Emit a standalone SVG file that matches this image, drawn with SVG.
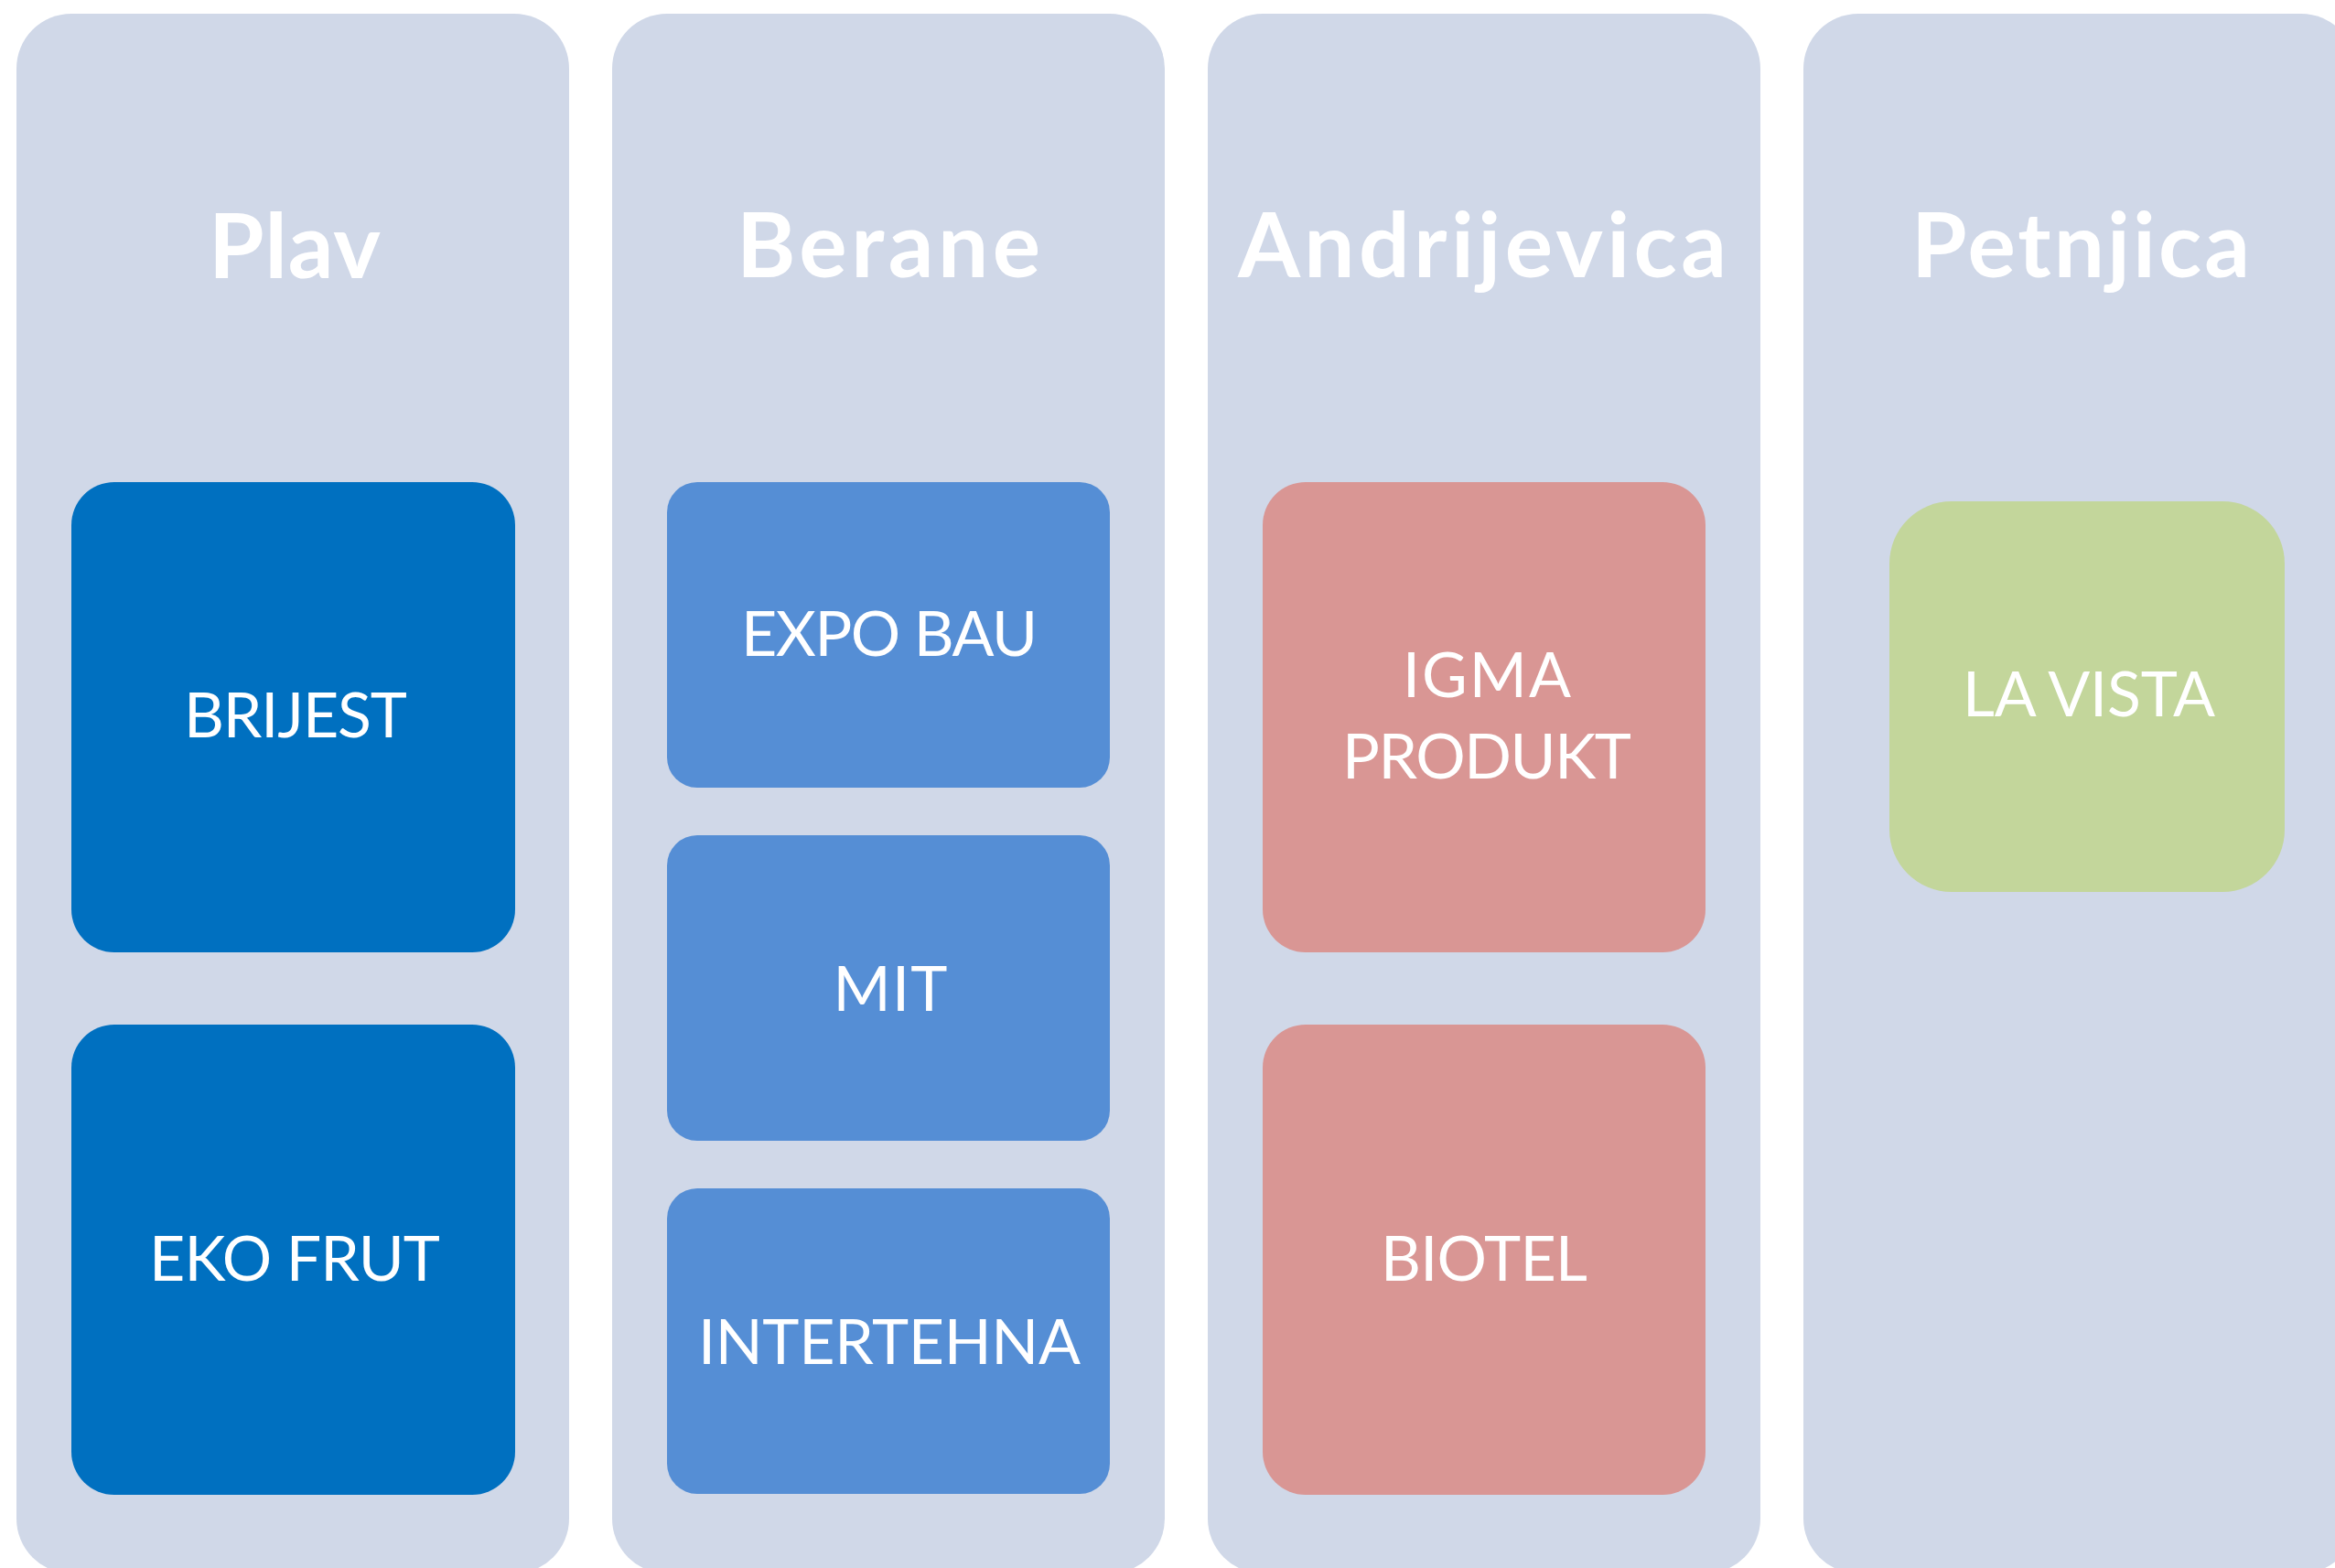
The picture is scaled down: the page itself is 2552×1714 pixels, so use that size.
<svg xmlns="http://www.w3.org/2000/svg" width="2552" height="1714" viewBox="0 0 2552 1714">
<style>
.col{fill:#D0D8E8}
.hdr{font-family:Lato,"Liberation Sans",sans-serif;font-weight:700;font-size:98px;fill:#fff;text-anchor:middle}
.lbl{font-family:Lato,"Liberation Sans",sans-serif;font-weight:400;font-size:68px;fill:#fff;text-anchor:middle}
.c1{fill:#0070C0}
.c2{fill:#558ED5}
.c3{fill:#D99694}
.c4{fill:#C3D69B}
</style>
<rect width="2552" height="1714" fill="#fff"/>
<g id="col-plav">
<rect class="col" x="18" y="15" width="604" height="1705" rx="60"/>
<text class="hdr" x="322" y="304" textLength="188" lengthAdjust="spacing">Plav</text>
</g>
<g id="col-berane">
<rect class="col" x="669" y="15" width="604" height="1705" rx="60"/>
<text class="hdr" x="971" y="303" textLength="332" lengthAdjust="spacing">Berane</text>
</g>
<g id="col-andrijevica">
<rect class="col" x="1320" y="15" width="604" height="1705" rx="60"/>
<text class="hdr" x="1620" y="303" textLength="534" lengthAdjust="spacing">Andrijevica</text>
</g>
<g id="col-petnjica">
<rect class="col" x="1971" y="15" width="604" height="1705" rx="60"/>
<text class="hdr" x="2274" y="303" textLength="370" lengthAdjust="spacing">Petnjica</text>
</g>
<g id="brijest">
<rect class="c1" x="78" y="527" width="485" height="514" rx="47"/>
<text class="lbl" x="323" y="806" textLength="244" lengthAdjust="spacing">BRIJEST</text>
</g>
<g id="eko-frut">
<rect class="c1" x="78" y="1120" width="485" height="514" rx="47"/>
<text class="lbl" x="322" y="1400" textLength="318" lengthAdjust="spacing">EKO FRUT</text>
</g>
<g id="expo-bau">
<rect class="c2" x="729" y="527" width="484" height="334" rx="33"/>
<text class="lbl" x="972" y="717" textLength="324" lengthAdjust="spacing">EXPO BAU</text>
</g>
<g id="mit">
<rect class="c2" x="729" y="913" width="484" height="334" rx="33"/>
<text class="lbl" x="973" y="1105" textLength="125" lengthAdjust="spacing">MIT</text>
</g>
<g id="intertehna">
<rect class="c2" x="729" y="1299" width="484" height="334" rx="33"/>
<text class="lbl" x="972" y="1491" textLength="418" lengthAdjust="spacing">INTERTEHNA</text>
</g>
<g id="igma-produkt">
<rect class="c3" x="1380" y="527" width="484" height="514" rx="47"/>
<text class="lbl" x="1625" y="762" textLength="184" lengthAdjust="spacing">IGMA</text>
<text class="lbl" x="1625" y="851" textLength="316" lengthAdjust="spacing">PRODUKT</text>
</g>
<g id="biotel">
<rect class="c3" x="1380" y="1120" width="484" height="514" rx="47"/>
<text class="lbl" x="1622" y="1400" textLength="226" lengthAdjust="spacing">BIOTEL</text>
</g>
<g id="la-vista">
<rect class="c4" x="2065" y="548" width="432" height="427" rx="68"/>
<text class="lbl" x="2283" y="783" textLength="276" lengthAdjust="spacing">LA VISTA</text>
</g>
<g id="connectors"/>
</svg>
